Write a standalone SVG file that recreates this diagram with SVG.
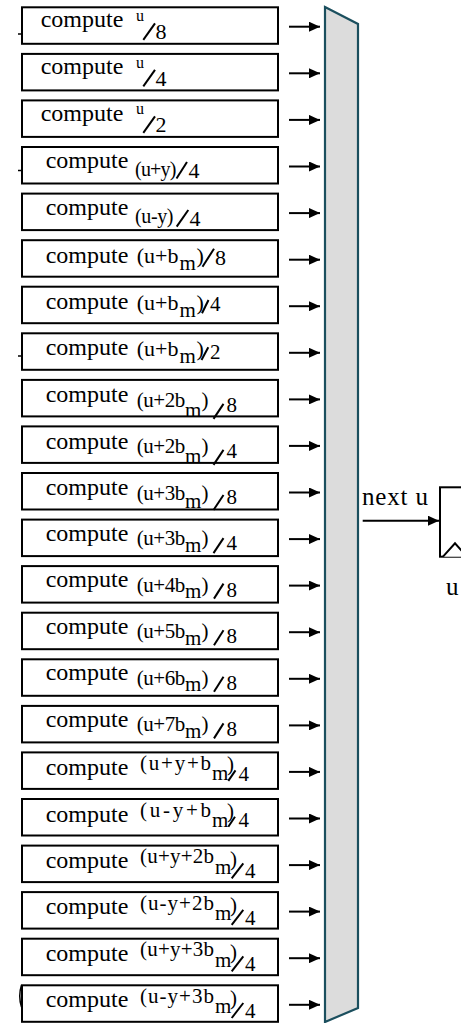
<svg xmlns="http://www.w3.org/2000/svg" width="461" height="1023" viewBox="0 0 461 1023">
  <style>
    .box { fill: #ffffff; stroke: #000000; stroke-width: 2; }
    .t { font-family: "Liberation Serif", "Times New Roman", serif; fill: #000000; }
    .main { font-size: 24px; }
    .ex { font-size: 21px; }
    .exl { font-size: 22px; }
    .exs { font-size: 20px; }
    .sup { font-size: 16px; }
    .dig { font-size: 22px; }
    .sl { stroke: #000000; stroke-width: 2; fill: none; }
    .conn { stroke: #000000; stroke-width: 2; fill: none; }
    .mux { fill: #dcdcdc; stroke: #1b4f5e; stroke-width: 2.2; }
    .reg { fill: #ffffff; stroke: #000000; stroke-width: 2; }
    .mark { stroke: #000000; stroke-width: 1.5; fill: none; }
  </style>
  <defs>
    <marker id="ah" markerUnits="userSpaceOnUse" markerWidth="11" markerHeight="10" refX="11" refY="5" orient="auto">
      <path d="M0,0 L11,5 L0,10 Z" fill="#000000"/>
    </marker>
  </defs>

  <rect width="461" height="1023" fill="#ffffff"/>

  <!-- stray edge marks left of the unit column -->
  <g id="edge-marks">
    <line class="mark" x1="18" y1="34" x2="22" y2="34"/>
    <line class="mark" x1="18" y1="170.5" x2="22" y2="170.5"/>
    <line class="mark" x1="18" y1="356" x2="22" y2="356"/>
    <path class="mark" d="M21.5,985 Q18,996 21.5,1007"/>
  </g>

  <!-- compute units: u / 2^k -->
  <g id="n-u8" transform="translate(0,7.3)">
    <rect class="box" x="22" y="0" width="256" height="36.5"/>
    <text class="t main" x="40.7" y="20">compute</text>
    <text class="t sup" x="136" y="13.5">u</text>
    <line class="sl" x1="143.3" y1="32.5" x2="155" y2="16"/>
    <text class="t dig" x="155.5" y="32">8</text>
  </g>
  <g id="n-u4" transform="translate(0,53.9)">
    <rect class="box" x="22" y="0" width="256" height="36.5"/>
    <text class="t main" x="40.7" y="20.5">compute</text>
    <text class="t sup" x="136" y="14">u</text>
    <line class="sl" x1="143.3" y1="32.5" x2="155" y2="16"/>
    <text class="t dig" x="155.5" y="32">4</text>
  </g>
  <g id="n-u2" transform="translate(0,100.4)">
    <rect class="box" x="22" y="0" width="256" height="36.5"/>
    <text class="t main" x="40.7" y="20.5">compute</text>
    <text class="t sup" x="136" y="14">u</text>
    <line class="sl" x1="143.3" y1="32.5" x2="155" y2="16"/>
    <text class="t dig" x="155.5" y="32">2</text>
  </g>

  <!-- compute units: (u ± y) / 4 -->
  <g id="n-upy4" transform="translate(0,147)">
    <rect class="box" x="22" y="0" width="256" height="36.5"/>
    <text class="t main" x="45.7" y="21.3">compute</text>
    <text class="t exs" x="135" y="29" textLength="41.5">(u+y)</text>
    <line class="sl" x1="176.5" y1="31.5" x2="187" y2="15"/>
    <text class="t dig" x="188.5" y="31">4</text>
  </g>
  <g id="n-umy4" transform="translate(0,193.6)">
    <rect class="box" x="22" y="0" width="256" height="36.5"/>
    <text class="t main" x="45.7" y="21.3">compute</text>
    <text class="t exs" x="135" y="29" textLength="38.5">(u-y)</text>
    <line class="sl" x1="176.7" y1="33" x2="188.3" y2="16.4"/>
    <text class="t dig" x="189.5" y="32">4</text>
  </g>

  <!-- compute units: (u + b_m) / 2^k -->
  <g id="n-ub8" transform="translate(0,240.2)">
    <rect class="box" x="22" y="0" width="256" height="36.5"/>
    <text class="t main" x="45.7" y="22.5">compute</text>
    <text class="t exl" x="136.7" y="23.3">(u+b</text>
    <text class="t ex" x="179.5" y="30">m</text>
    <text class="t exl" x="196.5" y="23.3">)</text>
    <line class="sl" x1="202.5" y1="26.5" x2="214" y2="8.5"/>
    <text class="t dig" x="215" y="25">8</text>
  </g>
  <g id="n-ub4" transform="translate(0,286.7)">
    <rect class="box" x="22" y="0" width="256" height="36.5"/>
    <text class="t main" x="45.7" y="22.5">compute</text>
    <text class="t exl" x="136.7" y="23.3">(u+b</text>
    <text class="t ex" x="179.5" y="30">m</text>
    <text class="t exl" x="196.5" y="23.3">)</text>
    <line class="sl" x1="202" y1="26.6" x2="208.5" y2="13.3"/>
    <text class="t ex" x="210" y="24">4</text>
  </g>
  <g id="n-ub2" transform="translate(0,333.3)">
    <rect class="box" x="22" y="0" width="256" height="36.5"/>
    <text class="t main" x="45.7" y="22">compute</text>
    <text class="t exl" x="136.7" y="23">(u+b</text>
    <text class="t ex" x="179.5" y="29.5">m</text>
    <text class="t exl" x="196.5" y="23">)</text>
    <line class="sl" x1="201.5" y1="26.7" x2="208.3" y2="14"/>
    <text class="t ex" x="210" y="26">2</text>
  </g>

  <!-- compute units: (u + k*b_m) / 2^j -->
  <g id="n-u2b8" transform="translate(0,379.9)">
    <rect class="box" x="22" y="0" width="256" height="36.5"/>
    <text class="t main" x="45.7" y="21.8">compute</text>
    <text class="t ex" x="136.7" y="27.5" textLength="48.5">(u+2b</text>
    <text class="t ex" x="185" y="37">m</text>
    <text class="t ex" x="201.5" y="27.5">)</text>
    <line class="sl" x1="213.5" y1="39" x2="223.5" y2="24"/>
    <text class="t ex" x="226.5" y="32">8</text>
  </g>
  <g id="n-u2b4" transform="translate(0,426.4)">
    <rect class="box" x="22" y="0" width="256" height="36.5"/>
    <text class="t main" x="45.7" y="23">compute</text>
    <text class="t ex" x="136.7" y="27" textLength="48.5">(u+2b</text>
    <text class="t ex" x="185" y="37">m</text>
    <text class="t ex" x="201.5" y="27">)</text>
    <line class="sl" x1="213.5" y1="38.5" x2="223.5" y2="23.5"/>
    <text class="t ex" x="226.5" y="31.5">4</text>
  </g>
  <g id="n-u3b8" transform="translate(0,473)">
    <rect class="box" x="22" y="0" width="256" height="36.5"/>
    <text class="t main" x="45.7" y="22">compute</text>
    <text class="t ex" x="136.7" y="26.5" textLength="48.5">(u+3b</text>
    <text class="t ex" x="185" y="35">m</text>
    <text class="t ex" x="201.5" y="26.5">)</text>
    <line class="sl" x1="213.5" y1="37" x2="223.5" y2="22"/>
    <text class="t ex" x="226.5" y="31">8</text>
  </g>
  <g id="n-u3b4" transform="translate(0,519.6)">
    <rect class="box" x="22" y="0" width="256" height="36.5"/>
    <text class="t main" x="45.7" y="21">compute</text>
    <text class="t ex" x="136.7" y="25.5" textLength="48.5">(u+3b</text>
    <text class="t ex" x="185" y="32">m</text>
    <text class="t ex" x="201.5" y="25.5">)</text>
    <line class="sl" x1="213.5" y1="33.5" x2="223.5" y2="18.5"/>
    <text class="t ex" x="226.5" y="30.5">4</text>
  </g>
  <g id="n-u4b8" transform="translate(0,566.1)">
    <rect class="box" x="22" y="0" width="256" height="36.5"/>
    <text class="t main" x="45.7" y="21">compute</text>
    <text class="t ex" x="136.7" y="25.5" textLength="48.5">(u+4b</text>
    <text class="t ex" x="185" y="32">m</text>
    <text class="t ex" x="201.5" y="25.5">)</text>
    <line class="sl" x1="214" y1="32.5" x2="223.5" y2="17.5"/>
    <text class="t ex" x="226.5" y="30.5">8</text>
  </g>
  <g id="n-u5b8" transform="translate(0,612.7)">
    <rect class="box" x="22" y="0" width="256" height="36.5"/>
    <text class="t main" x="45.7" y="21">compute</text>
    <text class="t ex" x="136.7" y="25.5" textLength="48.5">(u+5b</text>
    <text class="t ex" x="185" y="32">m</text>
    <text class="t ex" x="201.5" y="25.5">)</text>
    <line class="sl" x1="214" y1="32.5" x2="223.5" y2="17.5"/>
    <text class="t ex" x="226.5" y="30.5">8</text>
  </g>
  <g id="n-u6b8" transform="translate(0,659.3)">
    <rect class="box" x="22" y="0" width="256" height="36.5"/>
    <text class="t main" x="45.7" y="21">compute</text>
    <text class="t ex" x="136.7" y="25.5" textLength="48.5">(u+6b</text>
    <text class="t ex" x="185" y="32">m</text>
    <text class="t ex" x="201.5" y="25.5">)</text>
    <line class="sl" x1="214" y1="32.5" x2="223.5" y2="17.5"/>
    <text class="t ex" x="226.5" y="30.5">8</text>
  </g>
  <g id="n-u7b8" transform="translate(0,705.9)">
    <rect class="box" x="22" y="0" width="256" height="36.5"/>
    <text class="t main" x="45.7" y="21">compute</text>
    <text class="t ex" x="136.7" y="25.5" textLength="48.5">(u+7b</text>
    <text class="t ex" x="185" y="32">m</text>
    <text class="t ex" x="201.5" y="25.5">)</text>
    <line class="sl" x1="214" y1="32.5" x2="223.5" y2="17.5"/>
    <text class="t ex" x="226.5" y="30.5">8</text>
  </g>

  <!-- compute units: (u ± y + k*b_m) / 4 -->
  <g id="n-upyb4" transform="translate(0,752.4)">
    <rect class="box" x="22" y="0" width="256" height="36.5"/>
    <text class="t main" x="45.7" y="22.5">compute</text>
    <text class="t ex" x="140" y="18" textLength="71">(u+y+b</text>
    <text class="t ex" x="212" y="28">m</text>
    <text class="t ex" x="227" y="19">)</text>
    <line class="sl" x1="228.3" y1="28.5" x2="235.5" y2="18"/>
    <text class="t ex" x="238.5" y="28.5">4</text>
  </g>
  <g id="n-umyb4" transform="translate(0,799)">
    <rect class="box" x="22" y="0" width="256" height="36.5"/>
    <text class="t main" x="45.7" y="22.7">compute</text>
    <text class="t ex" x="140" y="18" textLength="71">(u-y+b</text>
    <text class="t ex" x="212" y="28">m</text>
    <text class="t ex" x="227" y="19">)</text>
    <line class="sl" x1="228.3" y1="27.7" x2="235" y2="17.7"/>
    <text class="t ex" x="238.5" y="28">4</text>
  </g>
  <g id="n-upy2b4" transform="translate(0,845.6)">
    <rect class="box" x="22" y="0" width="256" height="36.5"/>
    <text class="t main" x="45.7" y="22">compute</text>
    <text class="t ex" x="140" y="17.5" textLength="74">(u+y+2b</text>
    <text class="t ex" x="215" y="28">m</text>
    <text class="t ex" x="230" y="20">)</text>
    <line class="sl" x1="231.7" y1="32.7" x2="243.3" y2="17.7"/>
    <text class="t ex" x="245" y="32.7">4</text>
  </g>
  <g id="n-umy2b4" transform="translate(0,892.1)">
    <rect class="box" x="22" y="0" width="256" height="36.5"/>
    <text class="t main" x="45.7" y="22">compute</text>
    <text class="t ex" x="140" y="17.5" textLength="74">(u-y+2b</text>
    <text class="t ex" x="215" y="28">m</text>
    <text class="t ex" x="230" y="20">)</text>
    <line class="sl" x1="231.7" y1="32.7" x2="243.3" y2="17.7"/>
    <text class="t ex" x="245" y="32.7">4</text>
  </g>
  <g id="n-upy3b4" transform="translate(0,938.7)">
    <rect class="box" x="22" y="0" width="256" height="36.5"/>
    <text class="t main" x="45.7" y="22">compute</text>
    <text class="t ex" x="140" y="17.5" textLength="74">(u+y+3b</text>
    <text class="t ex" x="215" y="28">m</text>
    <text class="t ex" x="230" y="20">)</text>
    <line class="sl" x1="231.7" y1="32.7" x2="243.3" y2="17.7"/>
    <text class="t ex" x="245" y="32.7">4</text>
  </g>
  <g id="n-umy3b4" transform="translate(0,985.3)">
    <rect class="box" x="22" y="0" width="256" height="36.5"/>
    <text class="t main" x="45.7" y="22">compute</text>
    <text class="t ex" x="140" y="17.5" textLength="74">(u-y+3b</text>
    <text class="t ex" x="215" y="28">m</text>
    <text class="t ex" x="230" y="20">)</text>
    <line class="sl" x1="231.7" y1="32.7" x2="243.3" y2="17.7"/>
    <text class="t ex" x="245" y="32.7">4</text>
  </g>

  <!-- selector that gathers all candidate values -->
  <g id="n-mux">
    <polygon class="mux" points="325,7 358,24 358,1008 325,1022"/>
  </g>

  <!-- register holding u -->
  <g id="n-reg">
    <rect class="reg" x="440" y="487.3" width="40" height="69.4"/>
    <polyline class="reg" points="443,556.7 455,543.3 467,556.7" fill="none"/>
    <text class="t" x="446" y="595" font-size="25">u</text>
  </g>

  <!-- connectors -->
  <g id="connectors">
    <line class="conn" x1="289" y1="26.7" x2="320" y2="26.7" marker-end="url(#ah)"/>
    <line class="conn" x1="289" y1="73.3" x2="320" y2="73.3" marker-end="url(#ah)"/>
    <line class="conn" x1="289" y1="119.9" x2="320" y2="119.9" marker-end="url(#ah)"/>
    <line class="conn" x1="289" y1="166.5" x2="320" y2="166.5" marker-end="url(#ah)"/>
    <line class="conn" x1="289" y1="213.1" x2="320" y2="213.1" marker-end="url(#ah)"/>
    <line class="conn" x1="289" y1="259.7" x2="320" y2="259.7" marker-end="url(#ah)"/>
    <line class="conn" x1="289" y1="306.2" x2="320" y2="306.2" marker-end="url(#ah)"/>
    <line class="conn" x1="289" y1="352.8" x2="320" y2="352.8" marker-end="url(#ah)"/>
    <line class="conn" x1="289" y1="399.4" x2="320" y2="399.4" marker-end="url(#ah)"/>
    <line class="conn" x1="289" y1="445.9" x2="320" y2="445.9" marker-end="url(#ah)"/>
    <line class="conn" x1="289" y1="492.5" x2="320" y2="492.5" marker-end="url(#ah)"/>
    <line class="conn" x1="289" y1="539.1" x2="320" y2="539.1" marker-end="url(#ah)"/>
    <line class="conn" x1="289" y1="585.6" x2="320" y2="585.6" marker-end="url(#ah)"/>
    <line class="conn" x1="289" y1="632.2" x2="320" y2="632.2" marker-end="url(#ah)"/>
    <line class="conn" x1="289" y1="678.8" x2="320" y2="678.8" marker-end="url(#ah)"/>
    <line class="conn" x1="289" y1="725.4" x2="320" y2="725.4" marker-end="url(#ah)"/>
    <line class="conn" x1="289" y1="771.9" x2="320" y2="771.9" marker-end="url(#ah)"/>
    <line class="conn" x1="289" y1="818.5" x2="320" y2="818.5" marker-end="url(#ah)"/>
    <line class="conn" x1="289" y1="865.1" x2="320" y2="865.1" marker-end="url(#ah)"/>
    <line class="conn" x1="289" y1="911.6" x2="320" y2="911.6" marker-end="url(#ah)"/>
    <line class="conn" x1="289" y1="958.2" x2="320" y2="958.2" marker-end="url(#ah)"/>
    <line class="conn" x1="289" y1="1004.8" x2="320" y2="1004.8" marker-end="url(#ah)"/>
    <line class="conn" x1="362.7" y1="520.7" x2="439" y2="520.7" marker-end="url(#ah)"/>
    <text class="t" x="362" y="505" font-size="25" textLength="66">next u</text>
  </g>
</svg>
